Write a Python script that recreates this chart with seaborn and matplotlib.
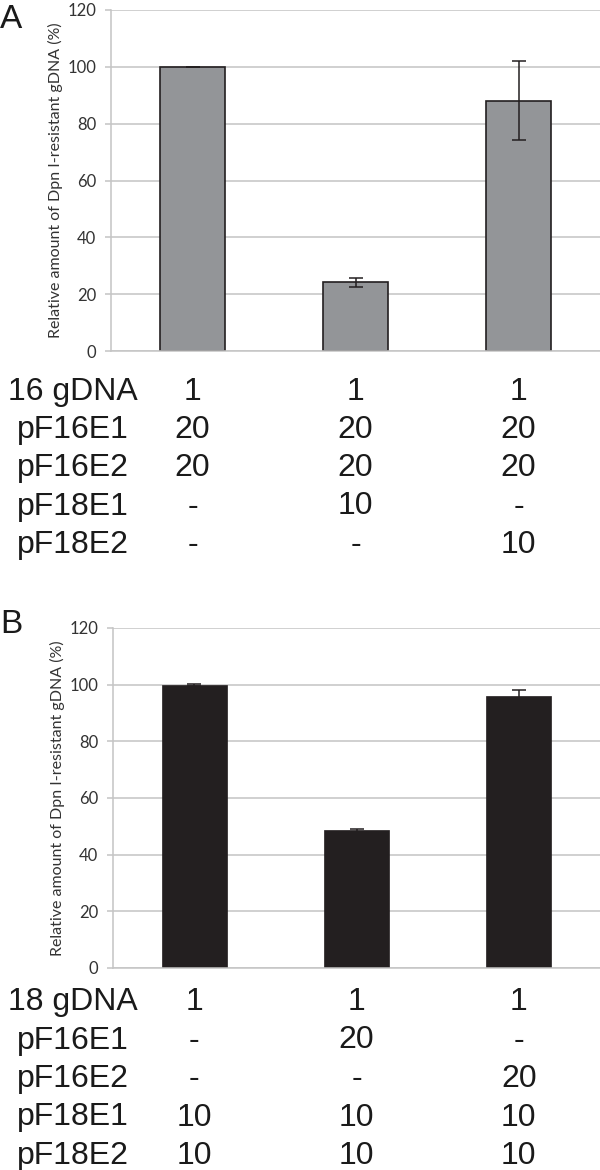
import matplotlib
matplotlib.use("Agg")
import matplotlib.pyplot as plt
import matplotlib.transforms as mtransforms
import seaborn as sns
import pandas as pd

# ---------------- data ----------------
lanes = ["1", "2", "3"]

means_a = [100.0, 24.2, 88.1]
err_a = [0.0, 1.6, 14.0]

means_b = [100.0, 48.6, 96.0]
err_b = [0.3, 0.5, 2.2]

y_ticks = [0, 20, 40, 60, 80, 100, 120]
y_label = "Relative amount of Dpn I-resistant gDNA (%)"

rows_a = ["16 gDNA", "pF16E1", "pF16E2", "pF18E1", "pF18E2"]
vals_a = [["1", "1", "1"],
          ["20", "20", "20"],
          ["20", "20", "20"],
          ["-", "10", "-"],
          ["-", "-", "10"]]

rows_b = ["18 gDNA", "pF16E1", "pF16E2", "pF18E1", "pF18E2"]
vals_b = [["1", "1", "1"],
          ["-", "20", "-"],
          ["-", "-", "20"],
          ["10", "10", "10"],
          ["10", "10", "10"]]

# ---------------- style ----------------
sns.set_theme(style="white")
plt.rcParams["font.family"] = ["Lato", "DejaVu Sans"]

W, H = 600, 1170
fig = plt.figure(figsize=(W / 100, H / 100), dpi=100)
fig.patch.set_facecolor("white")

GRID = "#c4c4c4"
INK = "#231f20"


def panel(rect_px, means, errs, fill, edge, lw):
    l, t, r, b = rect_px
    ax = fig.add_axes([l / W, 1 - b / H, (r - l) / W, (b - t) / H])
    df = pd.DataFrame({"lane": lanes, "value": means})
    sns.barplot(data=df, x="lane", y="value", color=fill, saturation=1,
                width=0.4, edgecolor=edge, linewidth=lw, errorbar=None,
                ax=ax, zorder=2)
    xs = list(range(len(lanes)))
    ax.errorbar(xs, means, yerr=errs, fmt="none", ecolor=INK,
                elinewidth=1.1, capsize=5, capthick=1.1, zorder=3)
    ax.set_xlim(-0.5, len(lanes) - 0.5)
    ax.set_ylim(0, 120)
    ax.set_yticks(y_ticks)
    ax.set_yticklabels([str(v) for v in y_ticks])
    ax.yaxis.grid(True, color=GRID, linewidth=1.1)
    ax.set_axisbelow(True)
    ax.set_xlabel("")
    ax.set_xticks([])
    ax.set_ylabel(y_label, fontsize=11.5, color="#333333", labelpad=3.5)
    for s in ["top", "right"]:
        ax.spines[s].set_visible(False)
    ax.spines["left"].set_color(GRID)
    ax.spines["bottom"].set_color(GRID)
    ax.spines["left"].set_linewidth(1.1)
    ax.spines["bottom"].set_linewidth(1.1)
    ax.tick_params(axis="y", left=True, length=4, width=1.1, color=GRID,
                   labelsize=12, labelcolor="#333333", pad=6.5)
    ax.set_facecolor("white")
    return ax


def table(ax, rows, vals, baselines_px):
    trans = mtransforms.blended_transform_factory(ax.transData, fig.transFigure)
    for i, (lab, row, yb) in enumerate(zip(rows, vals, baselines_px)):
        xl = 8 if i == 0 else 17
        fig.text(xl / W, 1 - yb / H, lab, fontsize=23, va="baseline",
                 ha="left", family=["Liberation Sans", "DejaVu Sans"],
                 color="#1a1a1a")
        for j, v in enumerate(row):
            ax.text(j, 1 - yb / H, v, transform=trans, fontsize=23,
                    va="baseline", ha="center",
                    family=["Liberation Sans", "DejaVu Sans"],
                    color="#1a1a1a")


ax_a = panel((111, 10, 600, 351), means_a, err_a, "#939598", INK, 1.2)
ax_b = panel((113, 628, 600, 968), means_b, err_b, INK, INK, 0.5)

table(ax_a, rows_a, vals_a, [400, 438, 476, 514.5, 553])
table(ax_b, rows_b, vals_b, [1010, 1048.5, 1087, 1125.5, 1164])

fig.text(0 / W, 1 - 28 / H, "A", fontsize=24, va="baseline", ha="left",
         family=["Liberation Sans", "DejaVu Sans"], color="#1a1a1a")
fig.text(0 / W, 1 - 633 / H, "B", fontsize=24, va="baseline", ha="left",
         family=["Liberation Sans", "DejaVu Sans"], color="#1a1a1a")

fig.savefig("out.png", dpi=100, facecolor="white")
